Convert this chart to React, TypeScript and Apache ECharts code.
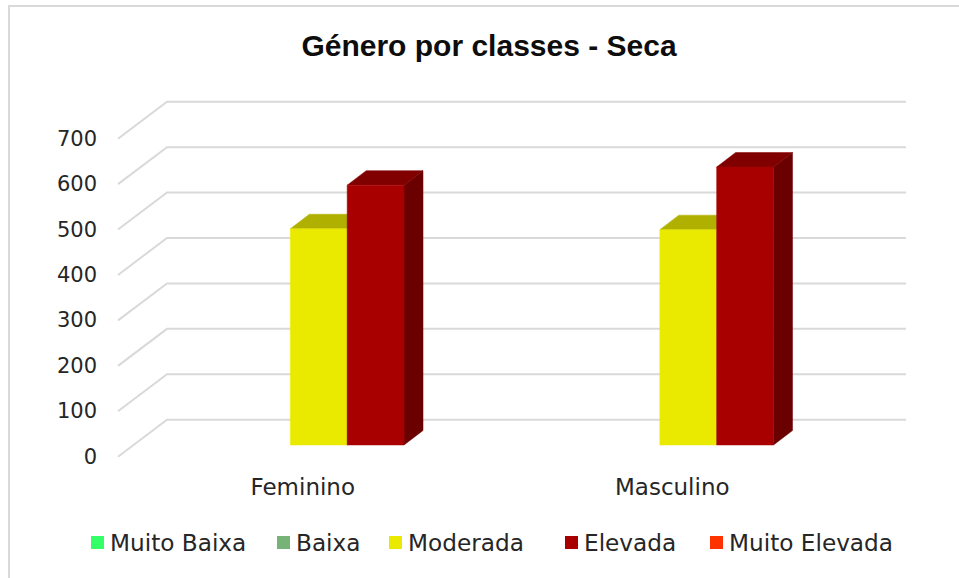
import React, { useEffect, useRef } from "react";
import * as echarts from "echarts";

const titleText = "Género por classes - Seca";
const categories = ["Feminino", "Masculino"];
const seriesNames = ["Muito Baixa", "Baixa", "Moderada", "Elevada", "Muito Elevada"];
const muitoBaixa = [null, null];
const baixa = [null, null];
const moderada = [476, 474];
const elevada = [572, 612];
const muitoElevada = [null, null];
const yTicks = [0, 100, 200, 300, 400, 500, 600, 700];

const frontColors = ["#33FF66", "#77B277", "#EAEA00", "#A80000", "#FF3300"];
const topColors = ["#24B248", "#537C53", "#B0B000", "#800000", "#B22400"];
const sideColors = ["#1C8C38", "#416141", "#8C8C00", "#6A0000", "#8C1C00"];
const legendLefts = [91, 277, 389, 565, 710];
const allValues = [muitoBaixa, baixa, moderada, elevada, muitoElevada];

const FONT = "DejaVu Sans";
const GRID_COLOR = "#D9D9D9";
const WALL_DX = 49;
const WALL_DY = -37;
const BAR_DX = 16;
const BAR_DY = -11.7;
const DEPTH_DX = 19;
const DEPTH_DY = -14.5;

function barRenderer(seriesIndex: number) {
  return (params: any, api: any) => {
    const v = api.value(1);
    if (v === null || v === undefined || Number.isNaN(v)) return null;
    const catW = api.size([1, 0])[0];
    const w = catW / 6.5;
    const center = api.coord([api.value(0), 0])[0];
    const x0 = center + (seriesIndex - 2.5) * w + BAR_DX;
    const x1 = x0 + w;
    const yBase = api.coord([api.value(0), 0])[1] + BAR_DY;
    const yTop = api.coord([api.value(0), v])[1] + BAR_DY;
    const poly = (points: number[][], fill: string) => ({
      type: "polygon",
      shape: { points },
      style: { fill, stroke: fill, lineWidth: 0.5 },
    });
    return {
      type: "group",
      children: [
        poly(
          [
            [x1, yBase],
            [x1 + DEPTH_DX, yBase + DEPTH_DY],
            [x1 + DEPTH_DX, yTop + DEPTH_DY],
            [x1, yTop],
          ],
          sideColors[seriesIndex]
        ),
        poly(
          [
            [x0, yTop],
            [x0 + DEPTH_DX, yTop + DEPTH_DY],
            [x1 + DEPTH_DX, yTop + DEPTH_DY],
            [x1, yTop],
          ],
          topColors[seriesIndex]
        ),
        poly(
          [
            [x0, yBase],
            [x1, yBase],
            [x1, yTop],
            [x0, yTop],
          ],
          frontColors[seriesIndex]
        ),
      ],
    };
  };
}

function wallRenderer(params: any, api: any) {
  const cs = params.coordSys;
  const y = api.coord([0, api.value(1)])[1];
  return {
    type: "polyline",
    shape: {
      points: [
        [cs.x, y],
        [cs.x + WALL_DX, y + WALL_DY],
        [cs.x + cs.width + WALL_DX, y + WALL_DY],
      ],
    },
    style: { stroke: GRID_COLOR, lineWidth: 2, fill: "none" },
  };
}

export default function App() {
  const ref = useRef<HTMLDivElement>(null);
  useEffect(() => {
    const chart = echarts.init(ref.current!, undefined, { renderer: "svg" });
    chart.setOption({
      animation: false,
      backgroundColor: "#FFFFFF",
      title: {
        text: titleText,
        left: 484,
        top: 25,
        textAlign: "center",
        textStyle: { fontFamily: "Liberation Sans", fontWeight: "bold", fontSize: 30, color: "#0D0D0D" },
      },
      grid: { left: 118, top: 138.7, width: 739, height: 318 },
      xAxis: {
        type: "category",
        data: categories,
        axisLine: { show: false },
        axisTick: { show: false },
        axisLabel: { fontFamily: FONT, fontSize: 23, color: "#262626", margin: 19 },
      },
      yAxis: {
        type: "value",
        min: 0,
        max: 700,
        interval: 100,
        splitLine: { show: false },
        axisLine: { show: false },
        axisTick: { show: false },
        axisLabel: { fontFamily: FONT, fontSize: 21, color: "#262626", margin: 21, padding: [2, 0, 0, 0] },
      },
      legend: seriesNames.map((name, i) => ({
        data: [name],
        left: legendLefts[i],
        top: 531,
        icon: "rect",
        itemWidth: 13,
        itemHeight: 13,
        itemGap: 0,
        padding: 0,
        selectedMode: false,
        textStyle: { fontFamily: FONT, fontSize: 23.2, color: "#262626", padding: [0, 0, 0, 1] },
      })),
      series: [
        {
          type: "custom",
          name: "grid",
          renderItem: wallRenderer,
          data: yTicks.map((t) => [0, t]),
          silent: true,
          clip: false,
          z: 1,
        },
        ...seriesNames.map((name, i) => ({
          type: "custom",
          name,
          renderItem: barRenderer(i),
          data: allValues[i].map((v, c) => [c, v]),
          itemStyle: { color: frontColors[i] },
          clip: false,
          z: 2 + i,
        })),
      ],
      graphic: [
        {
          type: "polyline",
          shape: { points: [[9, 578], [9, 6], [959, 6]] },
          style: { stroke: GRID_COLOR, lineWidth: 2, fill: "none" },
          silent: true,
        },
      ],
    });
    return () => chart.dispose();
  }, []);
  return <div ref={ref} style={{ position: "fixed", left: 0, top: 0, width: 959, height: 578 }} />;
}
